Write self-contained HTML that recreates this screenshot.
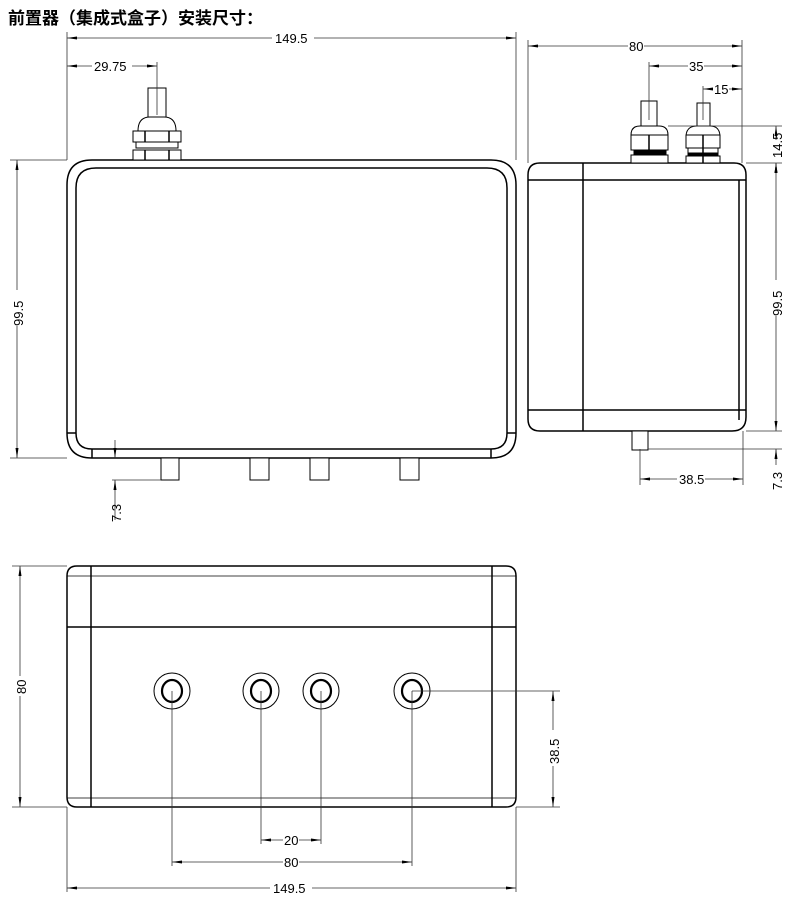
<!DOCTYPE html>
<html><head><meta charset="utf-8"><style>
body{margin:0;background:#fff;width:790px;height:904px;overflow:hidden}
svg{display:block}
text{font-family:"Liberation Sans Narrow","Liberation Sans",sans-serif;font-size:13px;fill:#000}
.t{font-family:"Liberation Sans","Noto Sans CJK SC",sans-serif;font-size:17px;font-weight:bold}
.d{stroke:#333;stroke-width:0.8;fill:none}
.s{stroke:#000;stroke-width:1.5;fill:none}
.w{stroke:#000;stroke-width:1;fill:#fff}
</style></head><body>
<svg width="790" height="904" viewBox="0 0 790 904">
<defs>
<marker id="a" viewBox="0 0 10 6" refX="10" refY="3" markerWidth="10" markerHeight="6" orient="auto-start-reverse" markerUnits="userSpaceOnUse"><path d="M0,1.5L10,3L0,4.5z" fill="#000"/></marker>
</defs>
<text x="8" y="24" class="t">前置器（集成式盒子）安装尺寸：</text>

<!-- FRONT VIEW -->
<path class="s" d="M67,185 Q67,160 92,160 L491,160 Q516,160 516,185 L516,433 Q516,458 491,458 L92,458 Q67,458 67,433 Z"/>
<path class="s" d="M76,188 Q76,168 96,168 L487,168 Q507,168 507,188 L507,433 Q507,449 491,449 L92,449 Q76,449 76,433 Z"/>
<line class="s" x1="67" y1="433" x2="76" y2="433"/><line class="s" x1="507" y1="433" x2="516" y2="433"/>
<line class="s" x1="92" y1="449" x2="92" y2="458"/><line class="s" x1="491" y1="449" x2="491" y2="458"/>
<!-- legs -->
<rect class="w" x="161" y="458" width="18" height="22"/>
<rect class="w" x="250" y="458" width="19" height="22"/>
<rect class="w" x="310" y="458" width="19" height="22"/>
<rect class="w" x="400" y="458" width="19" height="22"/>
<!-- gland -->
<rect class="w" x="148" y="88" width="18" height="30"/>
<path class="w" d="M138,131 Q138,117 150,117 L164,117 Q176,117 176,131 Z"/>
<rect class="w" x="133" y="131" width="48" height="11"/>
<line class="s" x1="145" y1="131" x2="145" y2="142"/><line class="s" x1="169" y1="131" x2="169" y2="142"/>
<rect class="w" x="136" y="142" width="42" height="6"/>
<rect class="w" x="133" y="150" width="48" height="10"/>
<line class="s" x1="145" y1="150" x2="145" y2="160"/><line class="s" x1="169" y1="150" x2="169" y2="160"/>
<!-- dims front -->
<line class="d" x1="67" y1="32" x2="67" y2="160"/><line class="d" x1="516" y1="32" x2="516" y2="160"/>
<line class="d" x1="67" y1="38" x2="516" y2="38" marker-start="url(#a)" marker-end="url(#a)"/>
<rect x="272" y="30" width="42" height="14" fill="#fff"/><text x="275" y="43">149.5</text>
<line class="d" x1="157" y1="62" x2="157" y2="115"/>
<line class="d" x1="67" y1="66" x2="157" y2="66" marker-start="url(#a)" marker-end="url(#a)"/>
<rect x="92" y="58" width="40" height="14" fill="#fff"/><text x="94" y="71">29.75</text>
<line class="d" x1="10" y1="160" x2="67" y2="160"/><line class="d" x1="10" y1="458" x2="67" y2="458"/>
<line class="d" x1="17" y1="160" x2="17" y2="458" marker-start="url(#a)" marker-end="url(#a)"/>
<rect x="10" y="290" width="14" height="36" fill="#fff"/><text transform="translate(23,326) rotate(-90)">99.5</text>
<line class="d" x1="115" y1="440" x2="115" y2="458" marker-end="url(#a)"/>
<line class="d" x1="112" y1="480" x2="161" y2="480"/>
<line class="d" x1="115" y1="520" x2="115" y2="480" marker-end="url(#a)"/>
<text transform="translate(121,522) rotate(-90)">7.3</text>

<!-- SIDE VIEW -->
<path class="s" d="M528,175 Q528,163 540,163 L734,163 Q746,163 746,175 L746,417 Q746,431 732,431 L540,431 Q528,431 528,419 Z"/>
<line class="s" x1="583" y1="163" x2="583" y2="431"/>
<line class="s" x1="528" y1="180" x2="746" y2="180"/>
<line class="s" x1="528" y1="410" x2="746" y2="410"/>
<line class="s" x1="739" y1="180" x2="739" y2="420"/>
<rect class="w" x="632" y="431" width="16" height="19"/>
<!-- gland 1 -->
<rect class="w" x="641" y="101" width="16" height="28"/>
<path class="w" d="M631,135 Q631,126 640,126 L659,126 Q668,126 668,135 Z"/>
<rect class="w" x="631" y="135" width="37" height="15"/>
<line class="s" x1="649" y1="135" x2="649" y2="163"/>
<rect class="w" x="634" y="150" width="32" height="5" style="fill:#000"/>
<rect class="w" x="631" y="155" width="37" height="8"/>
<!-- gland 2 -->
<rect class="w" x="697" y="103" width="13" height="27"/>
<path class="w" d="M686,137 Q686,126 697,126 L710,126 Q720,126 720,137 Z"/>
<rect class="w" x="686" y="135" width="34" height="13"/>
<rect class="w" x="688" y="148" width="30" height="5"/>
<rect class="w" x="688" y="153" width="30" height="3" style="fill:#000"/>
<rect class="w" x="686" y="156" width="34" height="7"/>
<line class="s" x1="703" y1="135" x2="703" y2="163"/>
<!-- dims side -->
<line class="d" x1="528" y1="40" x2="528" y2="163"/><line class="d" x1="742" y1="40" x2="742" y2="163"/>
<line class="d" x1="528" y1="46" x2="742" y2="46" marker-start="url(#a)" marker-end="url(#a)"/>
<rect x="628" y="38" width="16" height="14" fill="#fff"/><text x="629" y="51">80</text>
<line class="d" x1="649" y1="62" x2="649" y2="120"/>
<line class="d" x1="649" y1="66" x2="742" y2="66" marker-start="url(#a)" marker-end="url(#a)"/>
<rect x="688" y="58" width="16" height="14" fill="#fff"/><text x="689" y="71">35</text>
<line class="d" x1="703" y1="86" x2="703" y2="120"/>
<line class="d" x1="703" y1="89" x2="742" y2="89" marker-start="url(#a)" marker-end="url(#a)"/>
<rect x="713" y="81" width="16" height="14" fill="#fff"/><text x="714" y="94">15</text>
<line class="d" x1="668" y1="126" x2="782" y2="126"/>
<line class="d" x1="746" y1="163" x2="782" y2="163"/>
<line class="d" x1="746" y1="431" x2="782" y2="431"/>
<line class="d" x1="648" y1="449" x2="782" y2="449"/>
<line class="d" x1="776" y1="163" x2="776" y2="431" marker-start="url(#a)" marker-end="url(#a)"/>
<rect x="769" y="280" width="14" height="36" fill="#fff"/><text transform="translate(782,316) rotate(-90)">99.5</text>
<text transform="translate(782,158) rotate(-90)">14.5</text>
<line class="d" x1="776" y1="140" x2="776" y2="126" marker-end="url(#a)"/>
<line class="d" x1="776" y1="172" x2="776" y2="163" marker-end="url(#a)"/>
<line class="d" x1="776" y1="465" x2="776" y2="449" marker-end="url(#a)"/>
<text transform="translate(782,490) rotate(-90)">7.3</text>
<line class="d" x1="640" y1="449" x2="640" y2="485"/>
<line class="d" x1="743" y1="431" x2="743" y2="485"/>
<line class="d" x1="640" y1="479" x2="743" y2="479" marker-start="url(#a)" marker-end="url(#a)"/>
<rect x="677" y="471" width="28" height="14" fill="#fff"/><text x="679" y="484">38.5</text>

<!-- BOTTOM VIEW -->
<path class="s" d="M67,576 Q67,566 77,566 L506,566 Q516,566 516,576 L516,797 Q516,807 506,807 L77,807 Q67,807 67,797 Z"/>
<line class="s" x1="91" y1="566" x2="91" y2="807"/>
<line class="s" x1="492" y1="566" x2="492" y2="807"/>
<line class="s" x1="67" y1="576" x2="516" y2="576" style="stroke-width:0.8"/>
<line class="s" x1="67" y1="627" x2="516" y2="627"/>
<line class="s" x1="67" y1="798" x2="516" y2="798" style="stroke-width:0.8"/>
<g class="s">
<ellipse cx="172" cy="691" rx="18" ry="18" style="stroke-width:1"/><ellipse cx="172" cy="691" rx="10" ry="11" style="stroke-width:2.2"/>
<ellipse cx="261" cy="691" rx="18" ry="18" style="stroke-width:1"/><ellipse cx="261" cy="691" rx="10" ry="11" style="stroke-width:2.2"/>
<ellipse cx="321" cy="691" rx="18" ry="18" style="stroke-width:1"/><ellipse cx="321" cy="691" rx="10" ry="11" style="stroke-width:2.2"/>
<ellipse cx="412" cy="691" rx="18" ry="18" style="stroke-width:1"/><ellipse cx="412" cy="691" rx="10" ry="11" style="stroke-width:2.2"/>
</g>
<line class="d" x1="172" y1="691" x2="172" y2="866"/>
<line class="d" x1="261" y1="691" x2="261" y2="844"/>
<line class="d" x1="321" y1="691" x2="321" y2="844"/>
<line class="d" x1="412" y1="691" x2="412" y2="866"/>
<line class="d" x1="412" y1="691" x2="560" y2="691"/>
<line class="d" x1="516" y1="807" x2="560" y2="807"/>
<line class="d" x1="553" y1="691" x2="553" y2="807" marker-start="url(#a)" marker-end="url(#a)"/>
<rect x="546" y="730" width="14" height="36" fill="#fff"/><text transform="translate(559,764) rotate(-90)">38.5</text>
<line class="d" x1="261" y1="840" x2="321" y2="840" marker-start="url(#a)" marker-end="url(#a)"/>
<rect x="283" y="832" width="16" height="14" fill="#fff"/><text x="284" y="845">20</text>
<line class="d" x1="172" y1="862" x2="412" y2="862" marker-start="url(#a)" marker-end="url(#a)"/>
<rect x="283" y="854" width="16" height="14" fill="#fff"/><text x="284" y="867">80</text>
<line class="d" x1="67" y1="807" x2="67" y2="892"/><line class="d" x1="516" y1="807" x2="516" y2="892"/>
<line class="d" x1="67" y1="888" x2="516" y2="888" marker-start="url(#a)" marker-end="url(#a)"/>
<rect x="270" y="880" width="42" height="14" fill="#fff"/><text x="273" y="893">149.5</text>
<line class="d" x1="12" y1="566" x2="67" y2="566"/><line class="d" x1="12" y1="807" x2="67" y2="807"/>
<line class="d" x1="20" y1="566" x2="20" y2="807" marker-start="url(#a)" marker-end="url(#a)"/>
<rect x="13" y="676" width="14" height="20" fill="#fff"/><text transform="translate(26,694) rotate(-90)">80</text>
</svg>
</body></html>
